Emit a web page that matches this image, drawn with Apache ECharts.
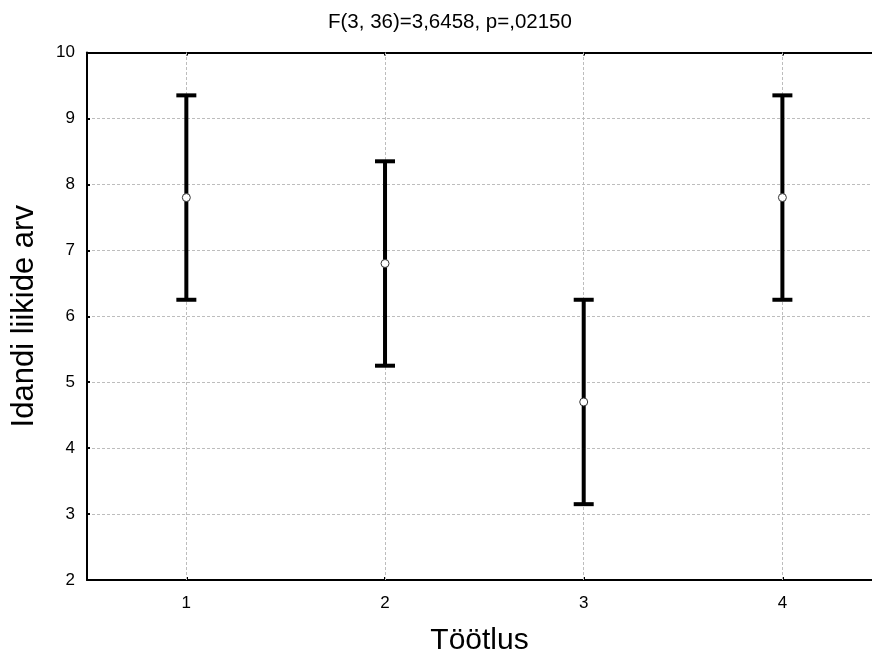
<!DOCTYPE html>
<html>
<head>
<meta charset="utf-8">
<script src="https://cdn.jsdelivr.net/npm/echarts@6/dist/echarts.min.js"></script>
<style>html,body{margin:0;padding:0;background:#fff;}#c{width:872px;height:661px;}</style>
</head>
<body>
<div id="c"></div>
<script>
const categories = [1, 2, 3, 4];
const means = [7.8, 6.8, 4.7, 7.8];
const lower = [6.25, 5.25, 3.15, 6.25];
const upper = [9.35, 8.35, 6.25, 9.35];
const titleText = 'F(3, 36)=3,6458, p=,02150';
const xName = 'Töötlus';
const yName = 'Idandi liikide arv';

const FONT = '"Liberation Sans", Arial, sans-serif';
const chart = echarts.init(document.getElementById('c'), null, {renderer: 'canvas'});

const errData = categories.map((c, i) => [c, lower[i], upper[i]]);
const meanData = categories.map((c, i) => [c, means[i]]);

const X_MIN = 0.5, X_MAX = 4.451; // plot is clipped on the right in the reference
const gridStyle = {color: '#bdbdbd', width: 1, type: [3, 2]};

const option = {
  animation: false,
  backgroundColor: '#fff',
  title: [
    {text: titleText, left: 323, top: 7,
     textStyle: {fontFamily: FONT, fontSize: 20.5, fontWeight: 'normal', color: '#000'}}
  ],
  grid: {left: 87, right: 0, top: 52.5, bottom: 80, containLabel: false},
  xAxis: [
    {
      type: 'value', min: X_MIN, max: X_MAX,
      name: xName, nameLocation: 'middle', nameGap: 46,
      nameTextStyle: {fontFamily: FONT, fontSize: 30, color: '#000'},
      axisLine: {show: true, onZero: false, lineStyle: {color: '#000', width: 2}},
      axisTick: {show: true, inside: true, length: 3, customValues: categories, lineStyle: {color: '#000', width: 2}},
      axisLabel: {customValues: categories, margin: 15, fontFamily: FONT, fontSize: 17, color: '#000'},
      splitLine: {show: false}
    },
    {
      type: 'value', min: X_MIN, max: X_MAX, position: 'top',
      axisLine: {show: true, onZero: false, lineStyle: {color: '#000', width: 2}},
      axisTick: {show: true, inside: true, length: 3, customValues: categories, lineStyle: {color: '#000', width: 2}},
      axisLabel: {show: false},
      splitLine: {show: false}
    }
  ],
  yAxis: {
    type: 'value', min: 2, max: 10, interval: 1,
    name: yName, nameLocation: 'middle', nameGap: 47,
    nameTextStyle: {fontFamily: FONT, fontSize: 31, color: '#000'},
    axisLine: {show: true, onZero: false, lineStyle: {color: '#000', width: 2}},
    axisTick: {show: true, inside: true, length: 3, lineStyle: {color: '#000', width: 2}},
    axisLabel: {margin: 12, fontFamily: FONT, fontSize: 17, color: '#000'},
    splitLine: {show: true, lineStyle: gridStyle}
  },
  series: [
    {
      type: 'line',
      xAxisIndex: 0,
      data: [],
      z: 1,
      markLine: {
        silent: true, symbol: 'none', label: {show: false},
        z: 1,
        lineStyle: gridStyle,
        data: categories.map(c => ({xAxis: c}))
      }
    },
    {
      type: 'custom',
      xAxisIndex: 0,
      data: errData,
      z: 10,
      renderItem: function (params, api) {
        const x = api.value(0);
        const lo = api.coord([x, api.value(1)]);
        const hi = api.coord([x, api.value(2)]);
        const hw = 10;
        const style = {stroke: '#000', lineWidth: 4, lineCap: 'butt', fill: null};
        return {
          type: 'group',
          children: [
            {type: 'line', shape: {x1: lo[0], y1: lo[1], x2: hi[0], y2: hi[1]}, style: style},
            {type: 'line', shape: {x1: hi[0] - hw, y1: hi[1], x2: hi[0] + hw, y2: hi[1]}, style: style},
            {type: 'line', shape: {x1: lo[0] - hw, y1: lo[1], x2: lo[0] + hw, y2: lo[1]}, style: style}
          ]
        };
      }
    },
    {
      type: 'scatter',
      xAxisIndex: 0,
      data: meanData,
      symbol: 'circle',
      symbolSize: 8,
      z: 12,
      itemStyle: {color: '#fff', borderColor: '#333', borderWidth: 1, opacity: 1}
    }
  ]
};
chart.setOption(option);
</script>
</body>
</html>
